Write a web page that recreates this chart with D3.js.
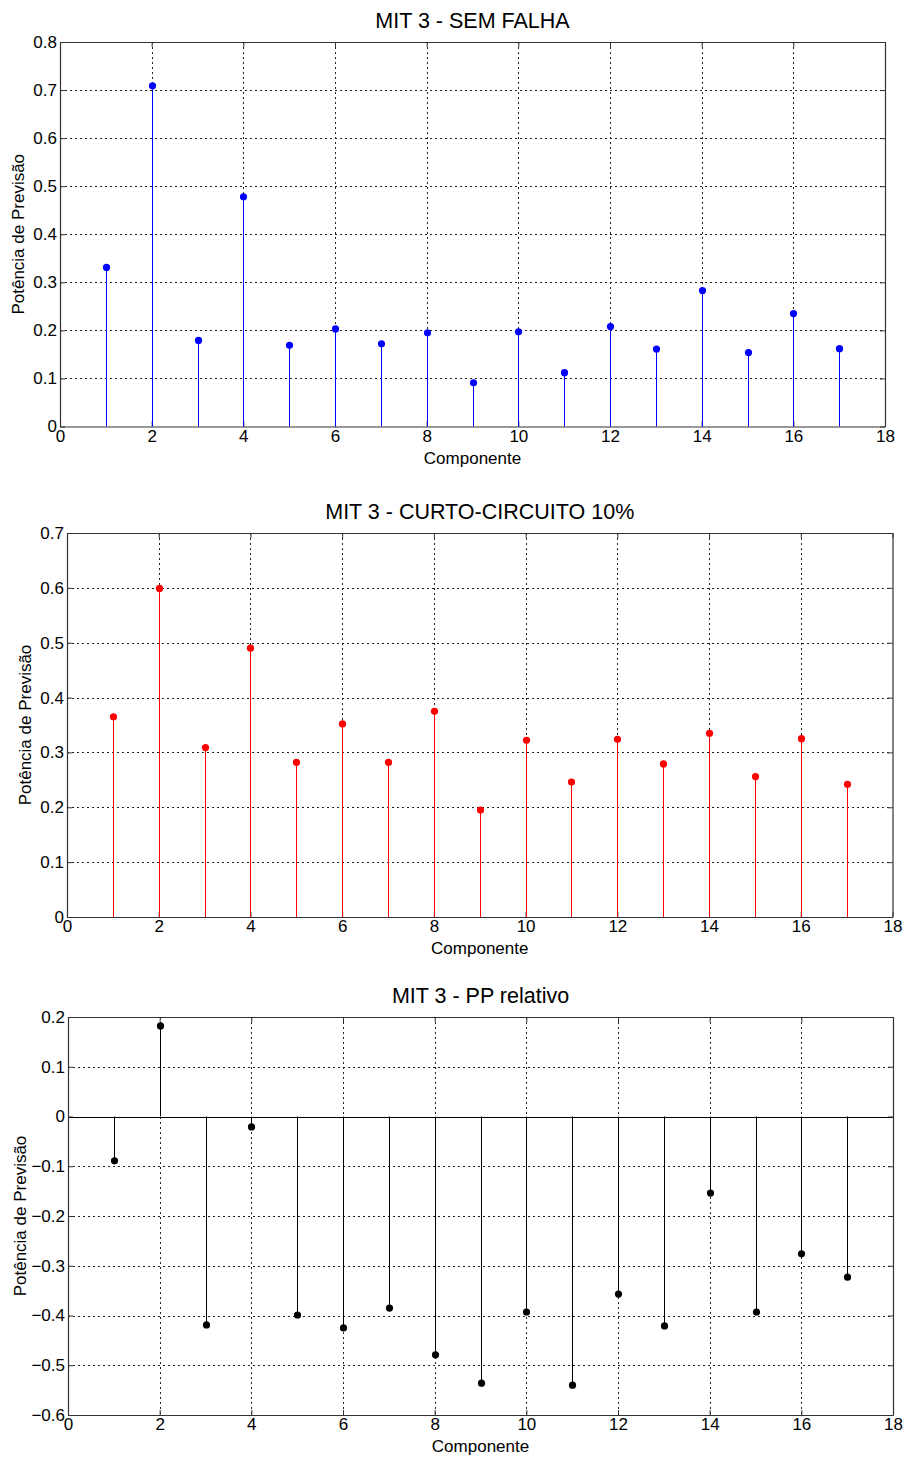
<!DOCTYPE html>
<html>
<head>
<meta charset="utf-8">
<script src="https://cdn.jsdelivr.net/npm/d3@7"></script>
<style>
  body { margin: 0; background: #fff; }
  svg text { font-family: "Liberation Sans", Arial, sans-serif; fill: #000; }
</style>
</head>
<body>
<div id="chart"></div>
<script>
// component index 1..17
const componentes = d3.range(1, 18);

// MIT 3 - sem falha
const semFalha = [0.331, 0.709, 0.179, 0.478, 0.169, 0.203, 0.172, 0.195, 0.091,
  0.197, 0.112, 0.208, 0.161, 0.283, 0.154, 0.235, 0.162];

// MIT 3 - curto-circuito 10%
const curto10 = [0.365, 0.599, 0.309, 0.490, 0.282, 0.352, 0.282, 0.375, 0.195,
  0.322, 0.246, 0.324, 0.279, 0.335, 0.256, 0.325, 0.242];

// MIT 3 - PP relativo
const ppRelativo = [-0.089, 0.182, -0.419, -0.021, -0.399, -0.425, -0.385, -0.479, -0.536,
  -0.393, -0.540, -0.357, -0.421, -0.154, -0.393, -0.276, -0.323];

const xTicks = [0, 2, 4, 6, 8, 10, 12, 14, 16, 18];
const yTicks1 = [0, 0.1, 0.2, 0.3, 0.4, 0.5, 0.6, 0.7, 0.8];
const yTicks2 = [0, 0.1, 0.2, 0.3, 0.4, 0.5, 0.6, 0.7];
const yTicks3 = [-0.6, -0.5, -0.4, -0.3, -0.2, -0.1, 0, 0.1, 0.2];

const svg = d3.select("#chart").append("svg")
  .attr("width", 906)
  .attr("height", 1457);

const fmt = (d) => d === 0 ? "0" : d3.format(".1f")(d);
// snap to pixel centre so 1px lines stay sharp
const px = (v) => Math.round(v) + 0.5;

function stemPanel(opts) {
  const { left, right, top, bottom, values, yDomain, yTicks, color, title, ylabelX } = opts;

  const x = d3.scaleLinear().domain([0, 18]).range([left, right]);
  const y = d3.scaleLinear().domain(yDomain).range([bottom, top]);
  const g = svg.append("g");

  // grid (dotted)
  g.selectAll(".vgrid").data(xTicks.slice(1, -1)).enter().append("line")
    .attr("x1", (d) => px(x(d))).attr("x2", (d) => px(x(d)))
    .attr("y1", top).attr("y2", bottom)
    .attr("stroke", "#222").attr("stroke-width", 1)
    .attr("stroke-dasharray", "2,3");
  g.selectAll(".hgrid").data(yTicks.slice(1, -1)).enter().append("line")
    .attr("x1", left).attr("x2", right)
    .attr("y1", (d) => px(y(d))).attr("y2", (d) => px(y(d)))
    .attr("stroke", "#222").attr("stroke-width", 1)
    .attr("stroke-dasharray", "2,3");

  // zero baseline when domain crosses zero
  if (yDomain[0] < 0) {
    g.append("line")
      .attr("x1", left).attr("x2", right)
      .attr("y1", px(y(0))).attr("y2", px(y(0)))
      .attr("stroke", "#000").attr("stroke-width", 1);
  }

  // axes with inward ticks
  const axB = g.append("g").attr("transform", `translate(0,${bottom})`)
    .call(d3.axisBottom(x).tickValues(xTicks).tickFormat(d3.format("d")).tickSizeInner(-5).tickSizeOuter(0).tickPadding(6));
  const axT = g.append("g").attr("transform", `translate(0,${top})`)
    .call(d3.axisTop(x).tickValues(xTicks).tickFormat("").tickSizeInner(-5).tickSizeOuter(0));
  const axL = g.append("g").attr("transform", `translate(${left},0)`)
    .call(d3.axisLeft(y).tickValues(yTicks).tickFormat(fmt).tickSizeInner(-5).tickSizeOuter(0).tickPadding(3));
  const axR = g.append("g").attr("transform", `translate(${right},0)`)
    .call(d3.axisRight(y).tickValues(yTicks).tickFormat("").tickSizeInner(-5).tickSizeOuter(0));

  [axB, axT, axL, axR].forEach((a) => {
    a.selectAll("path").attr("stroke", "#333").attr("stroke-width", 1.2);
    a.selectAll("line").attr("stroke", "#333");
    a.selectAll("text").style("font-size", "17px")
      .style("font-family", "'Liberation Sans', Arial, sans-serif").attr("fill", "#000");
  });
  axB.selectAll("text").attr("dy", "0.55em");

  // stems
  const base = yDomain[0] < 0 ? 0 : yDomain[0];
  g.selectAll(".stem").data(values).enter().append("line")
    .attr("x1", (d, i) => px(x(componentes[i]))).attr("x2", (d, i) => px(x(componentes[i])))
    .attr("y1", y(base)).attr("y2", (d) => y(d))
    .attr("stroke", color).attr("stroke-width", 1);
  g.selectAll(".dot").data(values).enter().append("circle")
    .attr("cx", (d, i) => px(x(componentes[i])))
    .attr("cy", (d) => y(d))
    .attr("r", 3.6)
    .attr("fill", color);

  // labels
  const cx = (left + right) / 2;
  g.append("text")
    .attr("x", cx).attr("y", top - 14)
    .attr("text-anchor", "middle")
    .style("font-size", "21.5px")
    .text(title);
  g.append("text")
    .attr("x", cx).attr("y", bottom + 37)
    .attr("text-anchor", "middle")
    .style("font-size", "17px")
    .text("Componente");
  g.append("text")
    .attr("transform", `translate(${ylabelX},${(top + bottom) / 2}) rotate(-90)`)
    .attr("text-anchor", "middle")
    .style("font-size", "17px")
    .text("Potência de Previsão");
}

stemPanel({ left: 60, right: 885, top: 42, bottom: 426.5, values: semFalha,
  yDomain: [0, 0.8], yTicks: yTicks1, color: "#0000ff", title: "MIT 3 - SEM FALHA", ylabelX: 24 });

stemPanel({ left: 67, right: 892.5, top: 533, bottom: 917, values: curto10,
  yDomain: [0, 0.7], yTicks: yTicks2, color: "#ff0000", title: "MIT 3 - CURTO-CIRCUITO 10%", ylabelX: 31 });

stemPanel({ left: 68, right: 893, top: 1017, bottom: 1415, values: ppRelativo,
  yDomain: [-0.6, 0.2], yTicks: yTicks3, color: "#000000", title: "MIT 3 - PP relativo", ylabelX: 26 });
</script>
</body>
</html>
